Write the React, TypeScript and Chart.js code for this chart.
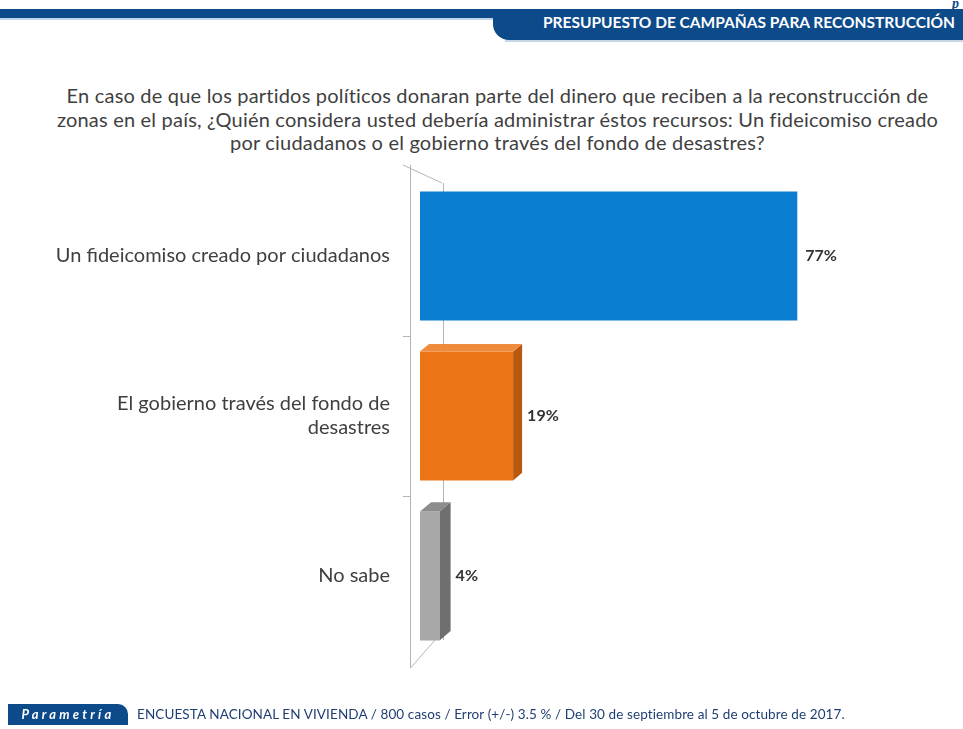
import React, { useEffect, useRef } from "react";
import { Chart, registerables } from "chart.js";

Chart.register(...registerables);

const headerTitle = "PRESUPUESTO DE CAMPAÑAS PARA RECONSTRUCCIÓN";
const questionLines = [
  "En caso de que los partidos políticos donaran parte del dinero que reciben a la reconstrucción de",
  "zonas en el país, ¿Quién considera usted debería administrar éstos recursos: Un fideicomiso creado",
  "por ciudadanos o el gobierno través del fondo de desastres?",
];
const categories: string[][] = [
  ["Un fideicomiso creado por ciudadanos"],
  ["El gobierno través del fondo de", "desastres"],
  ["No sabe"],
];
const values = [77, 19, 4];
const valueLabels = ["77%", "19%", "4%"];
const frontColors = ["#0b7dd0", "#ee7418", "#a8a8a8"];
const sideColors = ["#0a5fa0", "#b9580f", "#6f6f6f"];
const topColors = ["#2a90dc", "#f08a3c", "#8c8c8c"];
const depth = [0, 9, 11];
const footerText =
  "ENCUESTA NACIONAL EN VIVIENDA / 800 casos / Error (+/-) 3.5 % / Del 30 de septiembre al 5 de octubre de 2017.";

const wallPlugin = {
  id: "wall",
  beforeDatasetsDraw(chart: any) {
    const { ctx, chartArea } = chart;
    const { left, top, bottom } = chartArea;
    const fx = left - 10;
    const bx = left + 23;
    ctx.save();
    ctx.strokeStyle = "#b4b4b4";
    ctx.lineWidth = 1;
    ctx.beginPath();
    ctx.moveTo(fx + 0.5, top - 11);
    ctx.lineTo(fx + 0.5, bottom + 12);
    ctx.lineTo(bx - 8, bottom - 16);
    ctx.moveTo(fx - 7, top - 11);
    ctx.lineTo(bx - 1, top + 7);
    ctx.moveTo(bx + 0.5, top + 7);
    ctx.lineTo(bx + 0.5, bottom - 16);
    const y = chart.scales.y;
    const n = categories.length;
    for (let i = 1; i < n; i++) {
      const yy = Math.round((y.getPixelForValue(i - 1) + y.getPixelForValue(i)) / 2) + 0.5;
      ctx.moveTo(fx - 7, yy);
      ctx.lineTo(fx, yy);
    }
    ctx.stroke();
    ctx.restore();
  },
};

const bar3dPlugin = {
  id: "bar3d",
  afterDatasetsDraw(chart: any) {
    const { ctx } = chart;
    const meta = chart.getDatasetMeta(0);
    ctx.save();
    meta.data.forEach((el: any, i: number) => {
      const p = el.getProps(["x", "y", "base", "height"], true);
      const t = p.y - p.height / 2;
      const b = p.y + p.height / 2;
      const d = depth[i];
      if (d > 0) {
        ctx.fillStyle = sideColors[i];
        ctx.beginPath();
        ctx.moveTo(p.x, t);
        ctx.lineTo(p.x + d, t - d * 0.85);
        ctx.lineTo(p.x + d, b - d * 0.85);
        ctx.lineTo(p.x, b);
        ctx.closePath();
        ctx.fill();
        ctx.fillStyle = topColors[i];
        ctx.beginPath();
        ctx.moveTo(p.base, t);
        ctx.lineTo(p.base + d, t - d * 0.85);
        ctx.lineTo(p.x + d, t - d * 0.85);
        ctx.lineTo(p.x, t);
        ctx.closePath();
        ctx.fill();
      }
      ctx.fillStyle = "#333333";
      ctx.font = "bold 16px Lato, 'Open Sans', sans-serif";
      ctx.textAlign = "left";
      ctx.textBaseline = "middle";
      ctx.fillText(valueLabels[i], p.x + d + (i === 0 ? 8 : 5), p.y);
    });
    ctx.restore();
  },
};

export default function App() {
  const ref = useRef<HTMLCanvasElement>(null);
  useEffect(() => {
    if (!ref.current) return;
    const chart = new Chart(ref.current, {
      type: "bar",
      data: {
        labels: categories,
        datasets: [
          {
            data: values,
            backgroundColor: frontColors,
            borderWidth: 0,
            barPercentage: 0.9,
            categoryPercentage: 0.895,
          },
        ],
      },
      options: {
        indexAxis: "y",
        responsive: false,
        animation: false,
        layout: { padding: { top: 176, bottom: 73, left: 40, right: 53 } },
        plugins: { legend: { display: false }, tooltip: { enabled: false } },
        scales: {
          x: { display: false, min: 0, max: 100 },
          y: {
            border: { display: false },
            grid: { display: false, drawTicks: false },
            ticks: {
              padding: 30,
              color: "#3f3f3f",
              font: { family: "Lato, 'Open Sans', sans-serif", size: 20, lineHeight: 1.2 },
            },
            afterFit: (s: any) => {
              s.width = 380;
            },
          },
        },
      },
      plugins: [wallPlugin, bar3dPlugin],
    });
    return () => chart.destroy();
  }, []);

  return (
    <div style={{ position: "absolute", left: 0, top: 0, width: 963, height: 729, background: "#ffffff", overflow: "hidden", fontFamily: "Lato, 'Open Sans', sans-serif" }}>
      <div style={{ position: "absolute", left: 0, top: 9, width: 510, height: 9, background: "#0c4a8a" }} />
      <div style={{ position: "absolute", left: 0, top: 18, width: 500, height: 2, background: "#bcd3ea" }} />
      <div style={{ position: "absolute", left: 493, top: 9, width: 470, height: 31, background: "#0c4a8a", borderBottomLeftRadius: 16 }} />
      <div style={{ position: "absolute", left: 505, top: 40, width: 458, height: 2, background: "#c7d7e8" }} />
      <div style={{ position: "absolute", right: 8, top: 13, color: "#ffffff", fontWeight: 700, fontSize: 15.5, whiteSpace: "nowrap" }}>{headerTitle}</div>
      <div style={{ position: "absolute", right: 4, top: -4, color: "#0c4a8a", fontStyle: "italic", fontWeight: 700, fontSize: 14, fontFamily: "'Liberation Serif', serif" }}>p</div>
      <div style={{ position: "absolute", left: 0, top: 84, width: 995, textAlign: "center", color: "#3f3f3f", fontSize: 20, letterSpacing: 0.2, lineHeight: "23.5px" }}>
        {questionLines.map((l, i) => (
          <div key={i}>{l}</div>
        ))}
      </div>
      <canvas ref={ref} width={963} height={729} style={{ position: "absolute", left: 0, top: 0, width: 963, height: 729 }} />
      <div style={{ position: "absolute", left: 8, top: 704, width: 120, height: 21, background: "#0c4a8a", borderTopRightRadius: 10, color: "#ffffff", fontStyle: "italic", fontWeight: 700, fontSize: 13, letterSpacing: 3.2, lineHeight: "21px", textAlign: "center" }}>Parametría</div>
      <div style={{ position: "absolute", left: 137, top: 706, color: "#1f3f73", fontSize: 13.5, letterSpacing: 0.1, whiteSpace: "nowrap" }}>{footerText}</div>
    </div>
  );
}
